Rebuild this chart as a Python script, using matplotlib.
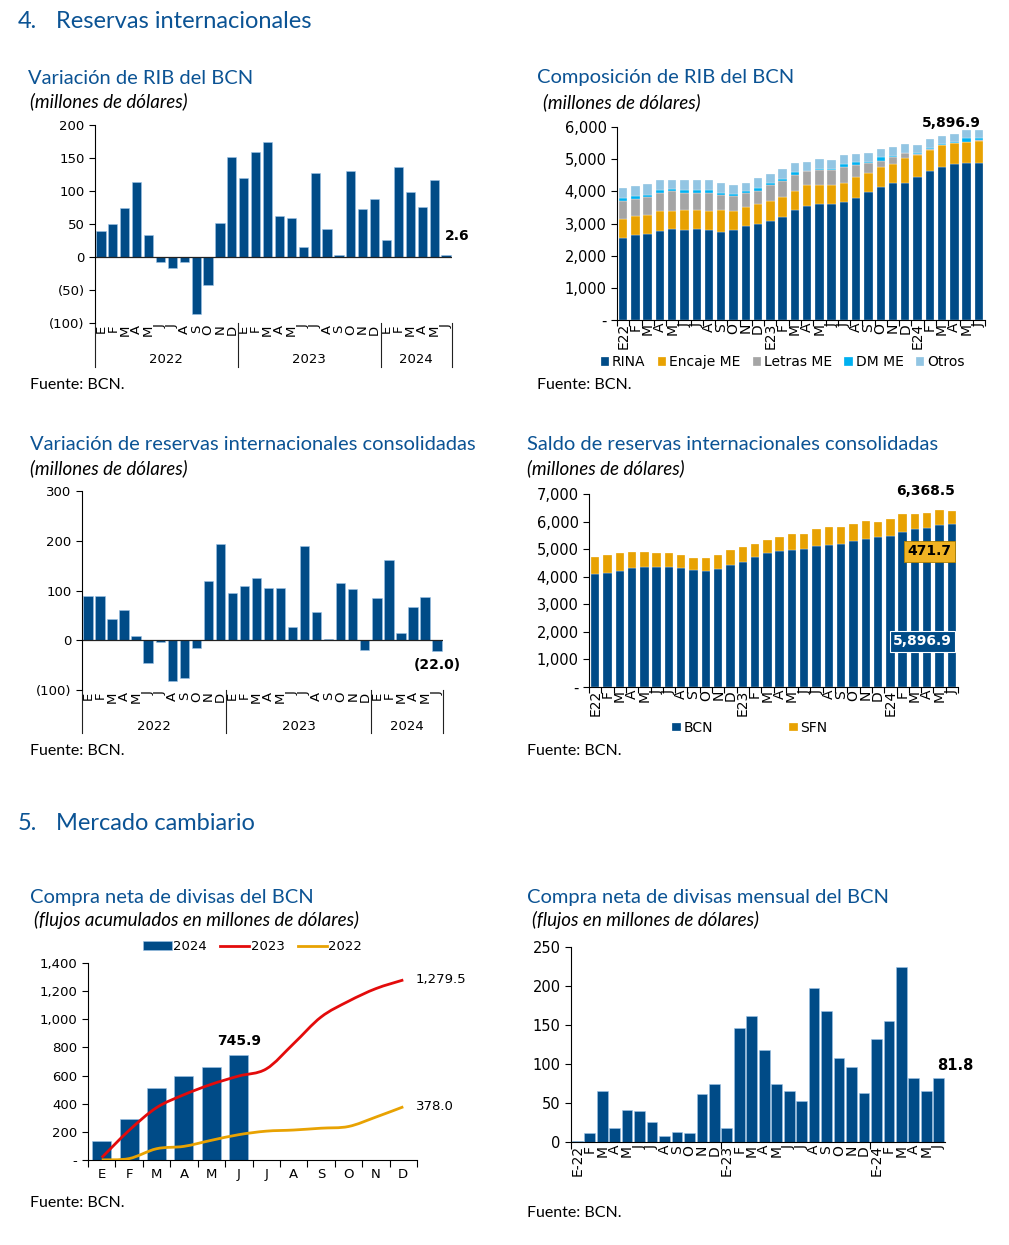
import numpy as np
import matplotlib
matplotlib.use('Agg')
import matplotlib.pyplot as plt
from matplotlib.path import Path
from matplotlib.patches import PathPatch, Patch
from matplotlib.lines import Line2D
from matplotlib.ticker import FuncFormatter, FixedLocator

# ---- datos ----
meses = ['E', 'F', 'M', 'A', 'M', 'J', 'J', 'A', 'S', 'O', 'N', 'D']
mes_lbl = meses + meses + meses[:6]
mes_anio = ['E22'] + meses[1:] + ['E23'] + meses[1:] + ['E24'] + meses[1:6]
mes_guion = ['E-22'] + meses[1:] + ['E-23'] + meses[1:] + ['E-24'] + meses[1:6]
anios = ['2022', '2023', '2024']

# variacion RIB del BCN
var_rib = [40, 50, 74, 113, 34, -7, -16, -8, -86, -42, 52, 151,
           120, 159, 174, 62, 59, 15, 128, 43, 2.5, 130, 73, 88,
           25, 137, 99, 75, 117, 2.6]

# composicion RIB
rina = [2543, 2647, 2689, 2772, 2844, 2813, 2844, 2813, 2751, 2813, 2907, 3000,
        3093, 3208, 3405, 3540, 3592, 3613, 3654, 3779, 3966, 4121, 4246, 4246,
        4433, 4620, 4744, 4838, 4889, 4889]
encaje = [592, 571, 571, 602, 551, 592, 561, 582, 654, 571, 602, 592,
          603, 612, 602, 644, 612, 591, 613, 674, 612, 623, 602, 778,
          685, 654, 696, 664, 634, 675]
letras = [550, 540, 560, 581, 602, 529, 550, 560, 488, 478, 425, 425,
          508, 509, 509, 436, 457, 457, 488, 364, 311, 197, 208, 166,
          42, 52, 10, 10, 10, 21]
dm_me = [94, 83, 73, 72, 72, 114, 93, 93, 62, 62, 63, 94,
         42, 62, 72, 20, 41, 41, 103, 83, 21, 115, 31, 0,
         30, 21, 21, 11, 115, 62.9]
otros = [311, 311, 322, 312, 291, 312, 291, 291, 291, 280, 270, 301,
         280, 291, 281, 281, 291, 281, 260, 270, 270, 249, 280, 270,
         240, 280, 249, 270, 249, 249]

# variacion reservas consolidadas
var_cons = [89, 88, 42, 60, 9, -46, -3, -81, -75, -15, 119, 193,
            94, 109, 126, 106, 105, 26, 190, 56, 3, 115, 103, -20,
            85, 162, 14, 66, 87, -22.0]

# saldo reservas consolidadas
bcn = [4081, 4118, 4215, 4311, 4336, 4336, 4336, 4311, 4239, 4215, 4263, 4408,
       4530, 4699, 4857, 4917, 4978, 4990, 5123, 5147, 5184, 5305, 5365, 5450,
       5474, 5607, 5729, 5777, 5890, 5896.9]
sfn = [630, 678, 629, 582, 569, 533, 533, 461, 436, 460, 533, 570,
       545, 485, 459, 509, 557, 557, 606, 642, 605, 617, 642, 533,
       606, 655, 533, 545, 517, 471.7]

# compra neta acumulada
acum_2024 = [133, 289, 512, 599, 663, 745.9]
acum_2023 = [17, 211, 372, 464, 538, 597, 647, 827, 1016, 1128, 1218, 1279.5]
acum_2022 = [1, 10, 80, 97, 140, 180, 205, 213, 226, 238, 305, 378.0]

# compra neta mensual
compra_mes = [1, 12, 66, 18, 41, 40, 26, 8, 13, 11, 61, 75,
              18, 146, 162, 118, 75, 66, 52, 198, 168, 108, 96, 63,
              132, 155, 224, 82, 66, 81.8]

# ---- estilo ----
azul = '#004B87'
borde = '#9DC3E6'
naranja = '#E8A202'
gris = '#A5A5A5'
cian = '#00B0F0'
celeste = '#92C5E3'
rojo = '#E30B0B'
titulo_c = '#0B5394'
tfont = 'Lato'

plt.rcParams['font.family'] = ['DejaVu Sans']
W, H = 1009, 1245
fig = plt.figure(figsize=(W / 100, H / 100), dpi=100)


def add_ax(l, t, r, b):
    return fig.add_axes([l / W, 1 - b / H, (r - l) / W, (b - t) / H])


def ftext(x, y, s, **kw):
    fig.text(x / W, 1 - y / H, s, va='center', **kw)


def fmt_paren(v, p):
    if v < 0:
        return f'({abs(v):,.0f})'
    return f'{v:,.0f}'


def fmt_guion(v, p):
    if v == 0:
        return '-'
    return f'{v:,.0f}'


def smooth_path(xs, ys):
    # curva suave tipo Excel (Catmull-Rom -> Bezier)
    pts = np.column_stack([xs, ys]).astype(float)
    ext = np.vstack([pts[0], pts, pts[-1]])
    verts = [pts[0]]
    codes = [Path.MOVETO]
    for i in range(len(pts) - 1):
        p0, p1, p2, p3 = ext[i], ext[i + 1], ext[i + 2], ext[i + 3]
        verts += [p1 + (p2 - p0) / 6, p2 - (p3 - p1) / 6, p2]
        codes += [Path.CURVE4] * 3
    return Path(verts, codes)


def variacion(ax, vals, ylim, yticks, ext, year_y, seps):
    x = np.arange(len(vals))
    ax.bar(x, vals, width=0.78, color=azul, edgecolor=borde, linewidth=0.4)
    ax.axhline(0, color='#222222', lw=0.9)
    ax.set_xlim(-0.5, len(vals) - 0.5)
    ax.set_ylim(*ylim)
    ax.set_yticks(yticks)
    ax.yaxis.set_major_formatter(FuncFormatter(fmt_paren))
    for s in ['top', 'right', 'bottom']:
        ax.spines[s].set_visible(False)
    ax.spines['left'].set_linewidth(0.8)
    ax.set_xticks(x, mes_lbl, rotation=90)
    ax.tick_params(axis='x', length=0, pad=1, labelsize=9.5)
    ax.tick_params(axis='y', direction='out', length=4, width=0.8, labelsize=9.5)
    trans = ax.get_xaxis_transform()
    for b in [-0.5] + seps:
        ax.plot([b, b], [0, -ext], transform=trans, clip_on=False, color='#222222', lw=0.8)
    centros = [5.5, 17.5, 26.5]
    for c, a in zip(centros, anios):
        ax.text(c, year_y, a, transform=trans, ha='center', va='center', fontsize=9.5)


# ---- titulos ----
for y, num, sec in [(22, '4.', 'Reservas internacionales'), (823, '5.', 'Mercado cambiario')]:
    ftext(18, y, num, fontsize=17, color=titulo_c, family=tfont)
    ftext(56, y, sec, fontsize=17, color=titulo_c, family=tfont)

titulos = [
    (28, 78, 'Variación de RIB del BCN', 30, 101, '(millones de dólares)'),
    (537, 78, 'Composición de RIB del BCN', 543, 102, '(millones de dólares)'),
    (30, 445, 'Variación de reservas internacionales consolidadas', 30, 468, '(millones de dólares)'),
    (527, 445, 'Saldo de reservas internacionales consolidadas', 527, 468, '(millones de dólares)'),
    (30, 897, 'Compra neta de divisas del BCN', 34, 920, '(flujos acumulados en millones de dólares)'),
    (527, 897, 'Compra neta de divisas mensual del BCN', 532, 920, '(flujos en millones de dólares)'),
]
for tx, ty, t, sx, sy, s in titulos:
    ftext(tx, ty, t, fontsize=14.5, color=titulo_c, family=tfont)
    ftext(sx, sy, s, fontsize=13.5, style='italic', family=tfont)

for fx, fy in [(30, 385), (537, 385), (30, 751), (527, 751), (30, 1203), (527, 1213)]:
    ftext(fx, fy, 'Fuente: BCN.', fontsize=11.5, family=tfont)

# ---- 1. variacion RIB ----
ax1 = add_ax(95, 125, 452, 323)
variacion(ax1, var_rib, (-100, 200), range(-100, 201, 50), 44 / 198, -37 / 198, [11.5, 23.5, 29.5])
ax1.annotate('2.6', (29, var_rib[-1]), xytext=(-1, 14), textcoords='offset points',
             ha='left', va='center', fontsize=10, fontweight='bold')

# ---- 3. variacion consolidadas ----
ax3 = add_ax(82, 491, 443, 690)
variacion(ax3, var_cons, (-100, 300), range(-100, 301, 100), 43 / 199, -37 / 199, [11.5, 23.5, 29.5])
ax3.annotate('(22.0)', (29, var_cons[-1]), xytext=(0, -10), textcoords='offset points',
             ha='center', va='center', fontsize=10, fontweight='bold')

# ---- 2. composicion RIB ----
ax2 = add_ax(617, 127, 985, 320)
x = np.arange(len(rina))
base = np.zeros(len(rina))
series = [(rina, azul, 'RINA'), (encaje, naranja, 'Encaje ME'), (letras, gris, 'Letras ME'),
          (dm_me, cian, 'DM ME'), (otros, celeste, 'Otros')]
for vals, col, lab in series:
    ax2.bar(x, vals, bottom=base, width=0.68, color=col, label=lab, edgecolor='white', linewidth=0.2)
    base = base + np.array(vals)
ax2.set_xlim(-0.5, 29.5)
ax2.set_ylim(0, 6000)
ax2.set_yticks(range(0, 6001, 1000))
ax2.yaxis.set_major_formatter(FuncFormatter(fmt_guion))
ax2.annotate(f'{base[-1]:,.1f}', (29.15, base[-1]), xytext=(0, 0), textcoords='offset points',
             ha='right', va='bottom', fontsize=10, fontweight='bold')
ax2.legend(loc='center', bbox_to_anchor=(0.45, -0.218), ncol=5, frameon=False, fontsize=10,
           handlelength=0.6, handleheight=0.6, handletextpad=0.2, columnspacing=0.9)

# ---- 4. saldo consolidadas ----
ax4 = add_ax(589, 494, 958, 687)
ax4.bar(x, bcn, width=0.68, color=azul, label='BCN', edgecolor='white', linewidth=0.2)
ax4.bar(x, sfn, bottom=bcn, width=0.68, color=naranja, label='SFN', edgecolor='white', linewidth=0.2)
total = np.array(bcn) + np.array(sfn)
ax4.set_xlim(-0.5, 29.5)
ax4.set_ylim(0, 7000)
ax4.set_yticks(range(0, 7001, 1000))
ax4.yaxis.set_major_formatter(FuncFormatter(fmt_guion))
ax4.annotate('6,368.5', (29.25, total[-1]), xytext=(0, 10), textcoords='offset points',
             ha='right', va='bottom', fontsize=10, fontweight='bold')
ax4.text(29.0, 4930, f'{sfn[-1]:,.1f}', ha='right', va='center', fontsize=10, fontweight='bold',
         bbox=dict(boxstyle='square,pad=0.25', fc='#F0B323', ec='#B08000', lw=0.6))
ax4.text(29.0, 1660, f'{bcn[-1]:,.1f}', ha='right', va='center', fontsize=10, fontweight='bold',
         color='white', bbox=dict(boxstyle='square,pad=0.25', fc=azul, ec='white', lw=0.8))
ax4.legend(loc='center', bbox_to_anchor=(0.436, -0.212), ncol=2, frameon=False, fontsize=10,
           handlelength=0.6, handleheight=0.6, handletextpad=0.2, columnspacing=5.5)

for ax, lbls in [(ax2, mes_anio), (ax4, mes_anio)]:
    for s in ['top', 'right']:
        ax.spines[s].set_visible(False)
    ax.set_xticks(x, lbls, rotation=90)
    ax.xaxis.set_minor_locator(FixedLocator(np.arange(-0.5, 30, 1)))
    ax.tick_params(axis='x', which='major', length=0, pad=2, labelsize=10)
    ax.tick_params(axis='x', which='minor', length=4, width=0.8)
    ax.tick_params(axis='y', direction='out', length=4, width=0.8, labelsize=10.5)

# ---- 5. compra neta acumulada ----
ax5 = add_ax(88, 963, 417, 1160)
x12 = np.arange(12)
ax5.bar(x12[:len(acum_2024)], acum_2024, width=0.69, color=azul, edgecolor=borde, linewidth=0.4)
ax5.add_patch(PathPatch(smooth_path(x12, acum_2023), fill=False, ec=rojo, lw=2, zorder=3))
ax5.add_patch(PathPatch(smooth_path(x12, acum_2022), fill=False, ec=naranja, lw=2, zorder=3))
ax5.set_xlim(-0.5, 11.5)
ax5.set_ylim(0, 1400)
ax5.set_yticks(range(0, 1401, 200))
ax5.yaxis.set_major_formatter(FuncFormatter(fmt_guion))
ax5.set_xticks(x12, meses)
ax5.xaxis.set_minor_locator(FixedLocator(np.arange(-0.5, 12, 1)))
ax5.tick_params(axis='x', which='major', length=0, pad=6, labelsize=9.5)
ax5.tick_params(axis='x', which='minor', length=5, width=0.8)
ax5.tick_params(axis='y', direction='out', length=4, width=0.8, labelsize=9.5)
for s in ['top', 'right']:
    ax5.spines[s].set_visible(False)
ax5.annotate(f'{acum_2023[-1]:,.1f}', (11, acum_2023[-1]), xytext=(9, 0), textcoords='offset points',
             ha='left', va='center', fontsize=9.5, annotation_clip=False)
ax5.annotate(f'{acum_2022[-1]:,.1f}', (11, acum_2022[-1]), xytext=(9, 0), textcoords='offset points',
             ha='left', va='center', fontsize=9.5, annotation_clip=False)
ax5.annotate(f'{acum_2024[-1]:,.1f}', (5, acum_2024[-1]), xytext=(0, 5), textcoords='offset points',
             ha='center', va='bottom', fontsize=10, fontweight='bold')
h5 = [Patch(fc=azul, ec=borde, lw=0.4), Line2D([], [], color=rojo, lw=2), Line2D([], [], color=naranja, lw=2)]
ax5.legend(h5, ['2024', '2023', '2022'], loc='center', bbox_to_anchor=(0.5, 1.083), ncol=3, frameon=False,
           fontsize=9.5, handlelength=2.2, handleheight=0.6, handletextpad=0.1, columnspacing=1.0)

# ---- 6. compra neta mensual ----
ax6 = add_ax(571, 947, 945, 1142)
ax6.bar(x, compra_mes, width=0.86, color=azul, edgecolor=borde, linewidth=0.4)
ax6.set_xlim(-0.5, 29.5)
ax6.set_ylim(0, 250)
ax6.set_yticks(range(0, 251, 50))
ax6.set_xticks(x, mes_guion, rotation=90)
ax6.xaxis.set_minor_locator(FixedLocator([-0.5, 11.5, 23.5]))
ax6.tick_params(axis='x', which='major', length=0, pad=2, labelsize=10)
ax6.tick_params(axis='x', which='minor', length=5, width=0.8)
ax6.tick_params(axis='y', direction='out', length=4, width=0.8, labelsize=10.5)
for s in ['top', 'right']:
    ax6.spines[s].set_visible(False)
ax6.annotate(f'{compra_mes[-1]:.1f}', (29, compra_mes[-1]), xytext=(-1, 4), textcoords='offset points',
             ha='left', va='bottom', fontsize=10.5, fontweight='bold', annotation_clip=False)

for ax in [ax2, ax4, ax5, ax6]:
    ax.spines['left'].set_linewidth(0.8)
    ax.spines['bottom'].set_linewidth(0.8)

fig.savefig('out.png', dpi=100)
